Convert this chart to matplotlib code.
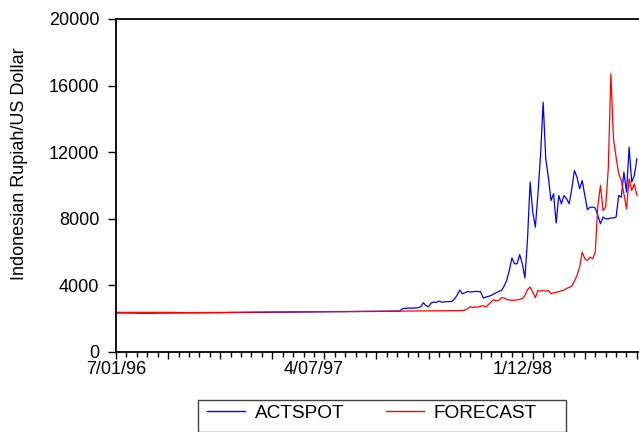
import matplotlib
matplotlib.use("Agg")
import matplotlib.pyplot as plt
from matplotlib.patches import Rectangle
from matplotlib.ticker import MultipleLocator, NullFormatter

plt.rcParams['font.family'] = ['Liberation Sans', 'DejaVu Sans']

# ---- data (observations, index based) ----
actspot_flat = [
    2340, 2342, 2338, 2341, 2343, 2340, 2337, 2339, 2336, 2334, 2335, 2333, 2330, 2332, 2334, 2331, 2333, 2336, 2338, 2340,
    2339, 2342, 2344, 2341, 2343, 2345, 2347, 2346, 2348, 2350, 2349, 2352, 2354, 2356, 2355, 2353, 2357, 2360, 2362, 2361,
    2363, 2365, 2364, 2366, 2368, 2367, 2369, 2372, 2374, 2373, 2375, 2377, 2376, 2378, 2380, 2382, 2381, 2383, 2385, 2384,
    2386, 2388, 2390, 2389, 2391, 2393, 2395, 2394, 2396, 2398, 2400, 2399, 2401, 2403, 2405, 2404, 2406, 2408, 2410, 2409,
    2411, 2413, 2415, 2414, 2416, 2418, 2420, 2419, 2421, 2423, 2425, 2424, 2426, 2428, 2430, 2429, 2431, 2433, 2435, 2434,
    2436, 2438, 2440, 2439, 2441, 2443, 2445, 2447, 2450,
]
actspot_crisis = [
    2460, 2600, 2620, 2630, 2640, 2630, 2650, 2660, 2720, 2960,
    2780, 2720, 2940, 3000, 2980, 3060, 3000, 3010, 3020, 3030,
    3040, 3200, 3420, 3720, 3500, 3560, 3640, 3600, 3620, 3640,
    3630, 3620, 3240, 3300, 3340, 3400, 3480, 3560, 3640, 3700,
    3950, 4300, 4900, 5650, 5300, 5300, 5850, 5300, 4450, 6800,
    10200, 8400, 7500, 9500, 11800, 15000, 11600, 10500, 9100, 9500,
    7750, 9400, 8900, 9400, 9200, 8900, 9800, 10900, 10500, 9800,
    10300, 9400, 8550, 8700, 8700, 8650, 8200, 7700, 8100, 8000,
    8000, 8050, 8050, 8100, 9400, 9300, 10800, 9600, 12300, 10200,
    10600, 11600,
]
forecast_flat = [
    2380, 2385, 2378, 2382, 2388, 2384, 2379, 2383, 2386, 2381, 2384, 2380, 2377, 2382, 2385, 2380, 2383, 2387, 2384, 2380,
    2378, 2382, 2376, 2373, 2370, 2368, 2372, 2369, 2366, 2370, 2373, 2368, 2371, 2374, 2372, 2369, 2373, 2376, 2374, 2371,
    2375, 2378, 2376, 2380, 2383, 2381, 2385, 2388, 2386, 2390, 2393, 2391, 2395, 2398, 2396, 2399, 2402, 2400, 2404, 2403,
    2405, 2407, 2406, 2408, 2410, 2412, 2411, 2413, 2415, 2414, 2416, 2418, 2420, 2419, 2421, 2423, 2422, 2424, 2426, 2425,
    2427, 2429, 2428, 2430, 2432, 2431, 2433, 2435, 2434, 2436, 2438, 2437, 2439, 2441, 2440, 2442, 2444, 2443, 2445, 2447,
    2446, 2448, 2450, 2449, 2451, 2453, 2452, 2454, 2455,
]
forecast_crisis = [
    2456, 2458, 2457, 2459, 2460, 2462, 2461, 2463, 2465, 2464,
    2466, 2468, 2467, 2469, 2470, 2472, 2471, 2473, 2475, 2474,
    2476, 2478, 2480, 2485, 2495, 2520, 2600, 2720, 2680, 2700,
    2690, 2750, 2780, 2700, 2850, 3000, 3140, 3060, 3120, 3260,
    3250, 3150, 3130, 3100, 3110, 3130, 3160, 3200, 3400, 3750,
    3900, 3600, 3260, 3700, 3650, 3700, 3650, 3700, 3500, 3550,
    3580, 3620, 3680, 3720, 3820, 3880, 3970, 4250, 4600, 5100,
    6000, 5600, 5500, 5700, 5600, 6000, 8800, 10000, 8500, 8700,
    11000, 16700, 12800, 11700, 10700, 10300, 9500, 8600, 10400, 9700,
    10100, 9400,
]
actspot = actspot_flat + actspot_crisis
forecast = forecast_flat + forecast_crisis

date_labels = ["7/01/96", "4/07/97", "1/12/98"]
date_label_obs = [0, 76, 156]
yticks = [0, 4000, 8000, 12000, 16000, 20000]

# ---- figure ----
W, H = 639, 432
fig = plt.figure(figsize=(W / 100, H / 100), dpi=100)
ax = fig.add_axes([116 / W, 1 - 352 / H, (W - 116) / W, (352 - 19) / H])

obs = list(range(len(actspot)))
l1, = ax.plot(obs, actspot, color='#0000ff', lw=0.9, label='ACTSPOT')
l2, = ax.plot(obs, forecast, color='#ff0000', lw=0.9, label='FORECAST')

ax.set_xlim(0, 200.8)
ax.set_ylim(0, 20000)

for s in ['left', 'top', 'bottom']:
    ax.spines[s].set_linewidth(1.3)
    ax.spines[s].set_color('black')
ax.spines['right'].set_visible(False)

ax.set_yticks(yticks)
ax.set_yticklabels([str(v) for v in yticks], fontsize=13)
ax.tick_params(axis='y', direction='out', length=6, width=1, pad=6)

ax.xaxis.set_major_locator(MultipleLocator(20))
ax.xaxis.set_minor_locator(MultipleLocator(4))
ax.xaxis.set_major_formatter(NullFormatter())
ax.tick_params(axis='x', which='major', direction='out', length=5, width=1)
ax.tick_params(axis='x', which='minor', direction='out', length=3.5, width=1)

trans = ax.get_xaxis_transform()
for lab, pos in zip(date_labels, date_label_obs):
    ax.text(pos, -0.028, lab, transform=trans, ha='center', va='top', fontsize=13)

fig.text(20 / W, 1 - 164 / H, 'Indonesian Rupiah/US Dollar', rotation=90,
         ha='center', va='center', fontsize=13)

# legend box (EViews style, extra room on the right)
fig.patches.append(Rectangle((198 / W, 0.0), (566 - 198) / W, 1 - 400 / H - 0.0,
                             transform=fig.transFigure, fill=False,
                             edgecolor='#404040', linewidth=1.0))
leg = fig.legend(handles=[l1, l2], loc='center left', bbox_to_anchor=(207 / W, 1 - 413 / H),
                 ncol=2, frameon=False, fontsize=13.7,
                 handlelength=2.0, handletextpad=0.5, columnspacing=2.2,
                 borderpad=0, borderaxespad=0)
for ln in leg.get_lines():
    ln.set_linewidth(1.0)

fig.savefig('out.png', dpi=100)
